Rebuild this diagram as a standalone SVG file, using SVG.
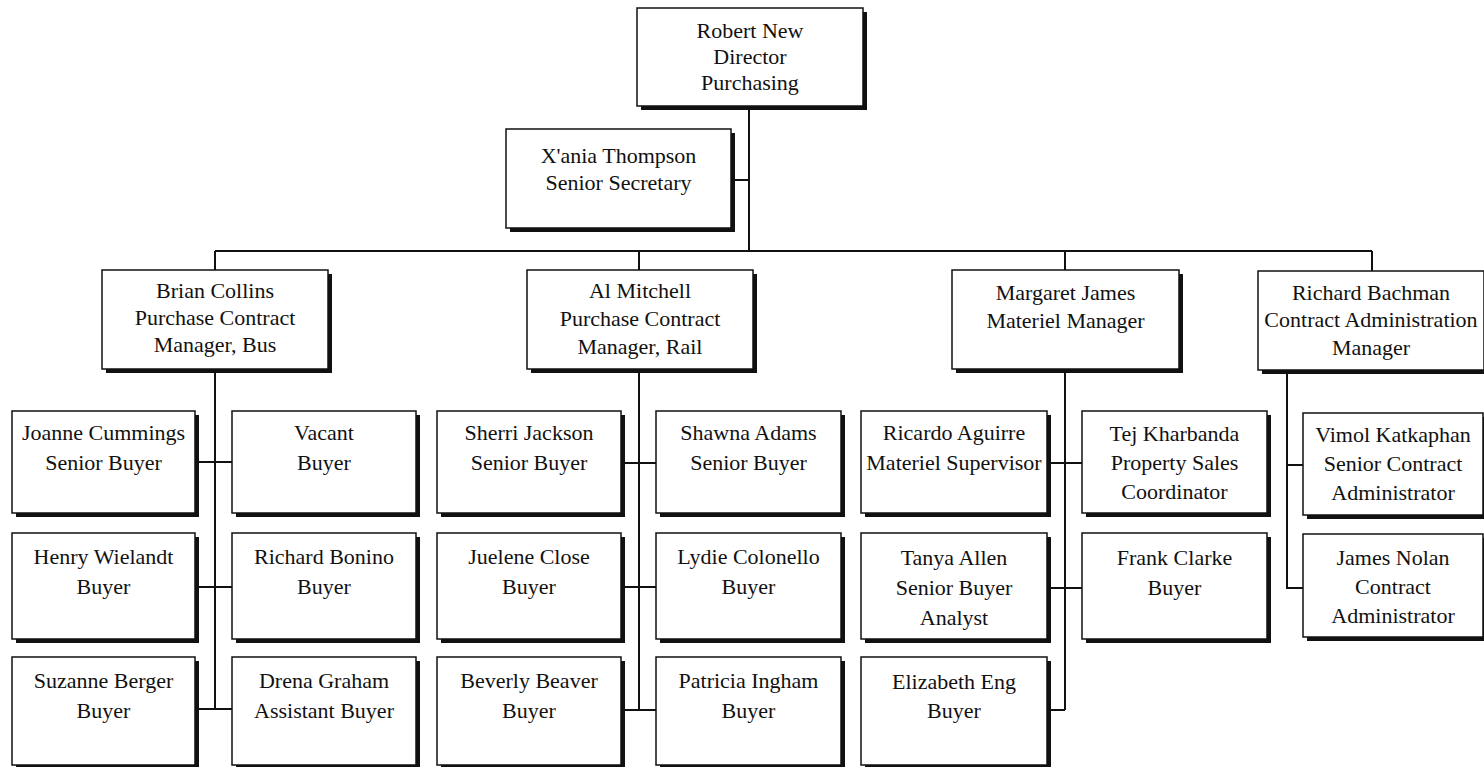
<svg xmlns="http://www.w3.org/2000/svg" width="1484" height="767" viewBox="0 0 1484 767">
<style>
.sh{fill:#111}
.box{fill:#fff;stroke:#111;stroke-width:1.5}
.t{font-family:"Liberation Serif","Times New Roman",serif;font-size:22px;fill:#111;text-anchor:middle}
.ln{stroke:#111;stroke-width:2;fill:none}
</style>
<rect width="1484" height="767" fill="#fff"/>
<g id="connectors">
<path class="ln" d="M749,106V251M731,180H749M215,251H1372M215,251V270M639,251V270M1065,251V270M1372,251V271"/>
<path class="ln" d="M215,369V709M195,462H232M195,587H232M195,709H232"/>
<path class="ln" d="M639,369V710M621,463H656M621,587H656M621,710H656"/>
<path class="ln" d="M1065,369V710M1047,463H1082M1047,588H1082M1047,710H1065"/>
<path class="ln" d="M1287,370V588H1303M1287,465H1303"/>
</g>
<g id="robert-new"><rect class="sh" x="641" y="12" width="226" height="98"/><rect class="box" x="637" y="8" width="226" height="98"/>
<text class="t" x="750" y="38">Robert New</text><text class="t" x="750" y="64">Director</text><text class="t" x="750" y="90">Purchasing</text></g>
<g id="xania-thompson"><rect class="sh" x="510" y="133" width="225" height="99"/><rect class="box" x="506" y="129" width="225" height="99"/>
<text class="t" x="618.5" y="163">X'ania Thompson</text><text class="t" x="618.5" y="190">Senior Secretary</text></g>
<g id="brian-collins"><rect class="sh" x="106" y="274" width="226" height="99"/><rect class="box" x="102" y="270" width="226" height="99"/>
<text class="t" x="215" y="298">Brian Collins</text><text class="t" x="215" y="325">Purchase Contract</text><text class="t" x="215" y="352">Manager, Bus</text></g>
<g id="al-mitchell"><rect class="sh" x="531" y="274" width="226" height="99"/><rect class="box" x="527" y="270" width="226" height="99"/>
<text class="t" x="640" y="298">Al Mitchell</text><text class="t" x="640" y="326">Purchase Contract</text><text class="t" x="640" y="354">Manager, Rail</text></g>
<g id="margaret-james"><rect class="sh" x="956" y="274" width="227" height="99"/><rect class="box" x="952" y="270" width="227" height="99"/>
<text class="t" x="1065.5" y="300">Margaret James</text><text class="t" x="1065.5" y="328">Materiel Manager</text></g>
<g id="richard-bachman"><rect class="sh" x="1262" y="275" width="226" height="99"/><rect class="box" x="1258" y="271" width="226" height="99"/>
<text class="t" x="1371" y="300">Richard Bachman</text><text class="t" x="1371" y="327">Contract Administration</text><text class="t" x="1371" y="355">Manager</text></g>

<g id="joanne-cummings"><rect class="sh" x="16" y="415" width="183" height="102"/><rect class="box" x="12" y="411" width="183" height="102"/>
<text class="t" x="103.5" y="440">Joanne Cummings</text><text class="t" x="103.5" y="470">Senior Buyer</text></g>
<g id="vacant"><rect class="sh" x="236" y="415" width="184" height="102"/><rect class="box" x="232" y="411" width="184" height="102"/>
<text class="t" x="324" y="440">Vacant</text><text class="t" x="324" y="470">Buyer</text></g>
<g id="henry-wielandt"><rect class="sh" x="16" y="537" width="183" height="106"/><rect class="box" x="12" y="533" width="183" height="106"/>
<text class="t" x="103.5" y="564">Henry Wielandt</text><text class="t" x="103.5" y="594">Buyer</text></g>
<g id="richard-bonino"><rect class="sh" x="236" y="537" width="184" height="106"/><rect class="box" x="232" y="533" width="184" height="106"/>
<text class="t" x="324" y="564">Richard Bonino</text><text class="t" x="324" y="594">Buyer</text></g>
<g id="suzanne-berger"><rect class="sh" x="16" y="661" width="183" height="108"/><rect class="box" x="12" y="657" width="183" height="108"/>
<text class="t" x="103.5" y="688">Suzanne Berger</text><text class="t" x="103.5" y="718">Buyer</text></g>
<g id="drena-graham"><rect class="sh" x="236" y="661" width="184" height="108"/><rect class="box" x="232" y="657" width="184" height="108"/>
<text class="t" x="324" y="688">Drena Graham</text><text class="t" x="324" y="718">Assistant Buyer</text></g>

<g id="sherri-jackson"><rect class="sh" x="441" y="415" width="184" height="102"/><rect class="box" x="437" y="411" width="184" height="102"/>
<text class="t" x="529" y="440">Sherri Jackson</text><text class="t" x="529" y="470">Senior Buyer</text></g>
<g id="shawna-adams"><rect class="sh" x="660" y="415" width="185" height="102"/><rect class="box" x="656" y="411" width="185" height="102"/>
<text class="t" x="748.5" y="440">Shawna Adams</text><text class="t" x="748.5" y="470">Senior Buyer</text></g>
<g id="juelene-close"><rect class="sh" x="441" y="537" width="184" height="106"/><rect class="box" x="437" y="533" width="184" height="106"/>
<text class="t" x="529" y="564">Juelene Close</text><text class="t" x="529" y="594">Buyer</text></g>
<g id="lydie-colonello"><rect class="sh" x="660" y="537" width="185" height="106"/><rect class="box" x="656" y="533" width="185" height="106"/>
<text class="t" x="748.5" y="564">Lydie Colonello</text><text class="t" x="748.5" y="594">Buyer</text></g>
<g id="beverly-beaver"><rect class="sh" x="441" y="661" width="184" height="108"/><rect class="box" x="437" y="657" width="184" height="108"/>
<text class="t" x="529" y="688">Beverly Beaver</text><text class="t" x="529" y="718">Buyer</text></g>
<g id="patricia-ingham"><rect class="sh" x="660" y="661" width="185" height="108"/><rect class="box" x="656" y="657" width="185" height="108"/>
<text class="t" x="748.5" y="688">Patricia Ingham</text><text class="t" x="748.5" y="718">Buyer</text></g>

<g id="ricardo-aguirre"><rect class="sh" x="865" y="415" width="186" height="102"/><rect class="box" x="861" y="411" width="186" height="102"/>
<text class="t" x="954" y="440">Ricardo Aguirre</text><text class="t" x="954" y="470">Materiel Supervisor</text></g>
<g id="tej-kharbanda"><rect class="sh" x="1086" y="415" width="185" height="102"/><rect class="box" x="1082" y="411" width="185" height="102"/>
<text class="t" x="1174.5" y="441">Tej Kharbanda</text><text class="t" x="1174.5" y="470">Property Sales</text><text class="t" x="1174.5" y="499">Coordinator</text></g>
<g id="tanya-allen"><rect class="sh" x="865" y="537" width="186" height="106"/><rect class="box" x="861" y="533" width="186" height="106"/>
<text class="t" x="954" y="565">Tanya Allen</text><text class="t" x="954" y="595">Senior Buyer</text><text class="t" x="954" y="625">Analyst</text></g>
<g id="frank-clarke"><rect class="sh" x="1086" y="537" width="185" height="106"/><rect class="box" x="1082" y="533" width="185" height="106"/>
<text class="t" x="1174.5" y="565">Frank Clarke</text><text class="t" x="1174.5" y="595">Buyer</text></g>
<g id="elizabeth-eng"><rect class="sh" x="865" y="661" width="186" height="108"/><rect class="box" x="861" y="657" width="186" height="108"/>
<text class="t" x="954" y="689">Elizabeth Eng</text><text class="t" x="954" y="718">Buyer</text></g>

<g id="vimol-katkaphan"><rect class="sh" x="1307" y="417" width="180" height="102"/><rect class="box" x="1303" y="413" width="180" height="102"/>
<text class="t" x="1393" y="442">Vimol Katkaphan</text><text class="t" x="1393" y="471">Senior Contract</text><text class="t" x="1393" y="500">Administrator</text></g>
<g id="james-nolan"><rect class="sh" x="1307" y="538" width="180" height="103"/><rect class="box" x="1303" y="534" width="180" height="103"/>
<text class="t" x="1393" y="565">James Nolan</text><text class="t" x="1393" y="594">Contract</text><text class="t" x="1393" y="623">Administrator</text></g>
</svg>
